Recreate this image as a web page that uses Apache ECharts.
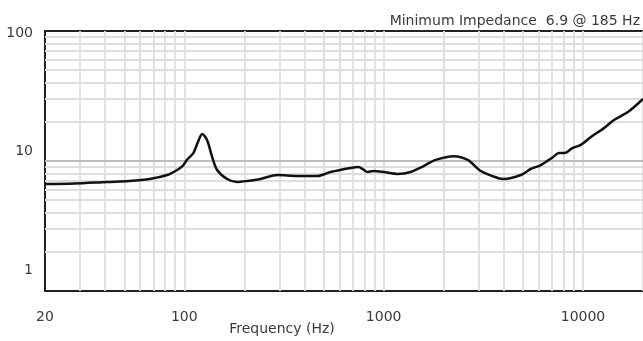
<!DOCTYPE html>
<html>
<head>
<meta charset="utf-8">
<script src="https://cdn.jsdelivr.net/npm/echarts@6/dist/echarts.min.js"></script>
<style>
  html, body { margin: 0; padding: 0; background: #fff; }
  #chart { width: 643px; height: 341px; }
</style>
</head>
<body>
<div id="chart"></div>
<script>
// impedance curve (Hz, ohm)
const freqHz = [20, 28, 41, 53, 67, 82, 92, 99, 103, 111, 117, 123, 130, 138, 146, 164, 184, 207, 241, 293, 369, 465, 541, 682, 748, 784, 830, 889, 998, 1175, 1365, 1586, 1823, 2246, 2640, 3070, 3736, 4004, 4876, 5470, 6140, 7060, 7570, 8010, 8890, 9750, 10960, 12740, 14300, 16800, 20000];
const impedance = [6.65, 6.71, 6.9, 7.02, 7.27, 7.8, 8.53, 9.31, 10.2, 11.5, 14.0, 16.1, 14.5, 10.7, 8.53, 7.27, 6.9, 7.02, 7.27, 7.8, 7.67, 7.67, 8.23, 8.84, 8.99, 8.68, 8.23, 8.37, 8.23, 7.94, 8.23, 9.15, 10.2, 10.9, 10.2, 8.37, 7.4, 7.27, 7.8, 8.68, 9.31, 10.7, 11.5, 11.5, 12.6, 13.3, 15.3, 17.9, 20.7, 23.8, 30.0];

const xTickLabels = [20, 100, 1000, 10000];
const yTickLabels = [1, 10, 100];
const titleText = 'Minimum Impedance  6.9 @ 185 Hz';

// grid line positions: 1..9 per decade
const steps = [1, 2, 3, 4, 5, 6, 7, 8, 9];
const xGrid = [];
[10, 100, 1000, 10000].forEach(d => steps.forEach(s => {
  const v = d * s;
  if (v > 20 && v <= 20000) xGrid.push(v);
}));
const yGrid = [];
[1, 10].forEach(d => steps.forEach(s => {
  const v = d * s;
  if (v > 1 && v < 100 && v !== 10) yGrid.push(v);
}));

const font = 'DejaVu Sans';
const chart = echarts.init(document.getElementById('chart'));

const option = {
  animation: false,
  textStyle: { fontFamily: font },
  title: {
    text: titleText,
    right: -2,
    top: 9,
    textStyle: { fontSize: 14, fontWeight: 'normal', color: '#3a3a3a', fontFamily: font }
  },
  grid: [
    { left: 45, right: 0, top: 31, bottom: 50, outerBoundsMode: 'none', containLabel: false },
    // label-only grid for the y labels
    { left: 45, right: 0, top: 33, bottom: 71, outerBoundsMode: 'none', containLabel: false }
  ],
  xAxis: [
    {
      type: 'log', gridIndex: 0, min: 20, max: 20000, logBase: 10,
      name: 'Frequency (Hz)', nameLocation: 'middle', nameGap: 31, nameMoveOverlap: false,
      nameTextStyle: { fontSize: 14, color: '#3a3a3a', padding: [0, 124, 0, 0] },
      axisLine: { show: true, lineStyle: { color: '#222', width: 2 } },
      axisTick: { show: false },
      splitLine: { show: false },
      axisLabel: {
        fontSize: 14, color: '#3a3a3a', margin: 19, showMaxLabel: false,
        formatter: v => {
          const r = Math.round(v);
          return xTickLabels.includes(r) ? String(r) : '';
        }
      }
    },
    {
      type: 'log', gridIndex: 0, min: 20, max: 20000, position: 'top',
      axisLine: { show: true, onZero: false, lineStyle: { color: '#222', width: 2 } },
      axisTick: { show: false }, axisLabel: { show: false }, splitLine: { show: false }
    },
    { type: 'value', gridIndex: 1, show: false }
  ],
  yAxis: [
    {
      type: 'log', gridIndex: 0, min: 1, max: 100,
      axisLine: { show: true, lineStyle: { color: '#222', width: 2 } },
      axisTick: { show: false },
      axisLabel: { show: false },
      splitLine: { show: false }
    },
    {
      type: 'log', gridIndex: 1, min: 1, max: 100,
      axisLine: { show: false }, axisTick: { show: false }, splitLine: { show: false },
      axisLabel: {
        fontSize: 14, color: '#3a3a3a', margin: 12,
        formatter: v => {
          const r = Math.round(v);
          return yTickLabels.includes(r) ? String(r) : '';
        }
      }
    }
  ],
  series: [
    {
      type: 'line', xAxisIndex: 0, yAxisIndex: 0, data: [], z: 1, silent: true,
      markLine: {
        z: 1, silent: true, symbol: 'none', label: { show: false },
        animation: false,
        lineStyle: { color: '#dedede', width: 1.8, type: 'solid' },
        data: xGrid.map(v => ({ xAxis: v }))
          .concat(yGrid.map(v => ({ yAxis: v })))
          .concat([{ yAxis: 10, lineStyle: { color: '#bdbdbd', width: 2, type: 'solid' } }])
      }
    },
    {
      name: 'Impedance', type: 'line', xAxisIndex: 0, yAxisIndex: 0, z: 3,
      data: freqHz.map((f, i) => [f, impedance[i]]),
      smooth: 0.3, showSymbol: false,
      lineStyle: { color: '#111', width: 2.5 }
    }
  ]
};
chart.setOption(option);
</script>
</body>
</html>
